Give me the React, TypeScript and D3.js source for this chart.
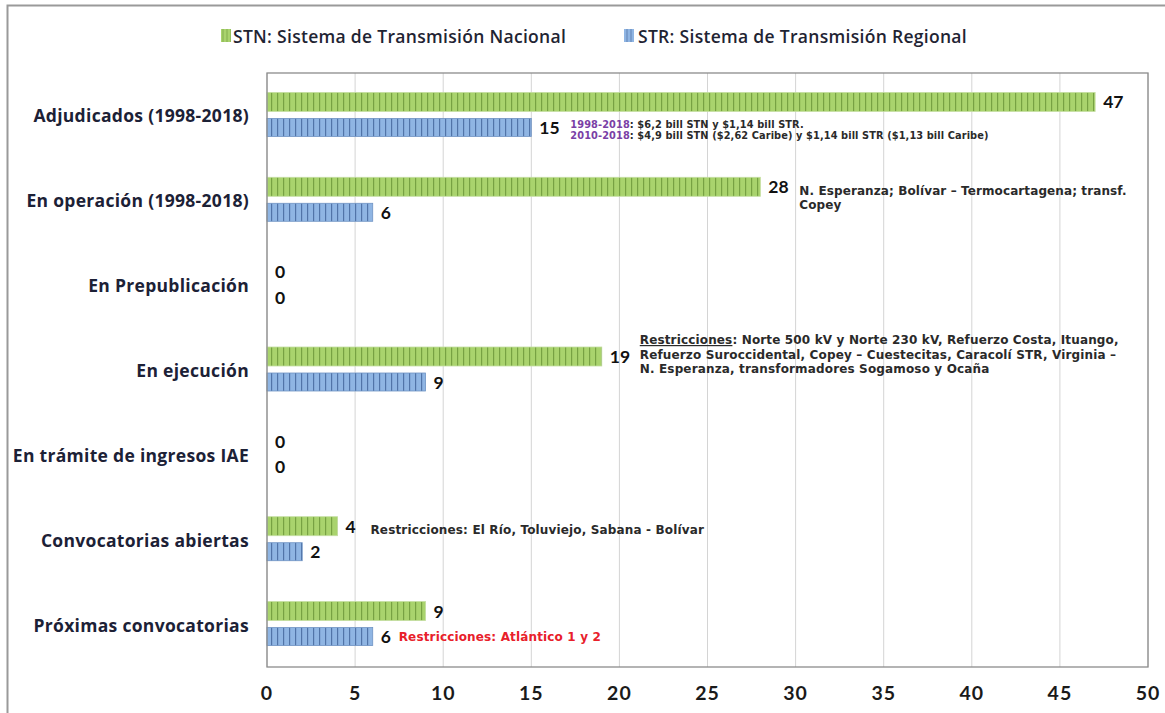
import React from "react";
import * as d3 from "d3";

const categories = [
  "Adjudicados (1998-2018)",
  "En operación (1998-2018)",
  "En Prepublicación",
  "En ejecución",
  "En trámite de ingresos IAE",
  "Convocatorias abiertas",
  "Próximas convocatorias",
];
const stnValues = [47, 28, 0, 19, 0, 4, 9];
const strValues = [15, 6, 0, 9, 0, 2, 6];
const xTicks = [0, 5, 10, 15, 20, 25, 30, 35, 40, 45, 50];
const legendLabels = ["STN: Sistema de Transmisión Nacional", "STR: Sistema de Transmisión Regional"];

type Seg = { t: string; color?: string; underline?: boolean };
type Note = { cat: number; series: "STN" | "STR"; dx: number; dys: number[]; size: number; ls: number; lines: Seg[][] };

const notes: Note[] = [
  {
    cat: 0, series: "STR", dx: 39, dys: [0.5, 11.5], size: 9.8, ls: 0.1,
    lines: [
      [{ t: "1998-2018", color: "#7a3fa6" }, { t: ": $6,2 bill STN y $1,14 bill STR." }],
      [{ t: "2010-2018", color: "#7a3fa6" }, { t: ": $4,9 bill STN ($2,62 Caribe) y $1,14 bill STR ($1,13 bill Caribe)" }],
    ],
  },
  {
    cat: 1, series: "STN", dx: 39, dys: [8, 22.5], size: 12, ls: 0.1,
    lines: [[{ t: "N. Esperanza; Bolívar – Termocartagena; transf." }], [{ t: "Copey" }]],
  },
  {
    cat: 3, series: "STN", dx: 38, dys: [-12.5, 2, 16.5], size: 12, ls: 0.15,
    lines: [
      [{ t: "Restricciones", underline: true }, { t: ": Norte 500 kV y Norte 230 kV, Refuerzo Costa, Ituango," }],
      [{ t: "Refuerzo Suroccidental, Copey – Cuestecitas, Caracolí STR, Virginia –" }],
      [{ t: "N. Esperanza, transformadores Sogamoso y Ocaña" }],
    ],
  },
  {
    cat: 5, series: "STN", dx: 33, dys: [8], size: 12, ls: 0.15,
    lines: [[{ t: "Restricciones: El Río, Toluviejo, Sabana - Bolívar" }]],
  },
  {
    cat: 6, series: "STR", dx: 26, dys: [4.5], size: 12, ls: 0.15,
    lines: [[{ t: "Restricciones: Atlántico 1 y 2", color: "#e8202a" }]],
  },
];

const W = 1165;
const H = 713;
const plotLeft = 267;
const plotRight = 1148;
const plotTop = 73;
const plotBottom = 667;

const GREEN = "#a9d36d";
const GREEN_STRIPE = "#6a9638";
const BLUE = "#8fb5e3";
const BLUE_STRIPE = "#41649a";
const LABEL_FONT = "'Open Sans', Lato, sans-serif";
const NUM_FONT = "Lato, 'Open Sans', sans-serif";
const NOTE_FONT = "'DejaVu Sans', Arial, sans-serif";

export default function App() {
  const x = d3.scaleLinear().domain([0, 50]).range([plotLeft, plotRight]);
  const y = d3.scaleBand().domain(categories).range([plotTop, plotBottom]).padding(0);
  const greenY = (c: number) => c - 23;
  const blueY = (c: number) => c + 3;
  const gH = 19;
  const bH = 18;

  return (
    <svg width={W} height={H} style={{ position: "absolute", left: 0, top: 0, background: "#fff" }}>
      <defs>
        <pattern id="pg" patternUnits="userSpaceOnUse" width={6} height={10} x={plotLeft}>
          <rect width={6} height={10} fill={GREEN} />
          <rect x={4} width={1.2} height={10} fill={GREEN_STRIPE} opacity={0.8} />
        </pattern>
        <pattern id="pb" patternUnits="userSpaceOnUse" width={6} height={10} x={plotLeft}>
          <rect width={6} height={10} fill={BLUE} />
          <rect x={4} width={1.2} height={10} fill={BLUE_STRIPE} opacity={0.8} />
        </pattern>
        <pattern id="pgl" patternUnits="userSpaceOnUse" width={4} height={10}>
          <rect width={4} height={10} fill={GREEN} />
          <rect x={2.5} width={1} height={10} fill={GREEN_STRIPE} opacity={0.6} />
        </pattern>
        <pattern id="pbl" patternUnits="userSpaceOnUse" width={4} height={10}>
          <rect width={4} height={10} fill={BLUE} />
          <rect x={2.5} width={1} height={10} fill={BLUE_STRIPE} opacity={0.6} />
        </pattern>
      </defs>
      <rect x={0} y={0} width={W} height={H} fill="#fff" />
      {/* outer frame */}
      <rect x={7.5} y={5.5} width={W + 10} height={H + 10} fill="none" stroke="#9a9a9a" strokeWidth={2} />

      {/* legend */}
      <g fontFamily={LABEL_FONT} fontWeight={600} fontSize={17.5} fill="#1f2433" letterSpacing={0.3}>
        <rect x={221} y={29} width={10} height={13} fill="url(#pgl)" />
        <text x={233} y={35.5} dominantBaseline="central">{legendLabels[0]}</text>
        <rect x={624} y={29} width={10} height={13} fill="url(#pbl)" />
        <text x={638} y={35.5} dominantBaseline="central">{legendLabels[1]}</text>
      </g>

      {/* gridlines */}
      {xTicks.map((t) => (
        <line key={t} x1={x(t)} x2={x(t)} y1={plotTop} y2={plotBottom} stroke="#d4d4d4" strokeWidth={1} />
      ))}

      {/* bars */}
      {categories.map((c, i) => {
        const cy = (y(c) as number) + y.bandwidth() / 2;
        return (
          <g key={c}>
            <rect x={x(0)} y={greenY(cy)} width={x(stnValues[i]) - x(0)} height={gH} fill="url(#pg)" stroke="#c4dea0" strokeWidth={0.8} />
            <rect x={x(0)} y={blueY(cy)} width={x(strValues[i]) - x(0)} height={bH} fill="url(#pb)" stroke="#6f93c4" strokeWidth={0.8} />
            <text x={x(stnValues[i]) + 8} y={greenY(cy) + gH / 2} dominantBaseline="central" fontFamily={NUM_FONT} fontWeight={700} fontSize={17.5} fill="#111">{stnValues[i]}</text>
            <text x={x(strValues[i]) + 8} y={blueY(cy) + bH / 2} dominantBaseline="central" fontFamily={NUM_FONT} fontWeight={700} fontSize={17.5} fill="#111">{strValues[i]}</text>
            <text x={249} y={cy} textAnchor="end" dominantBaseline="central" fontFamily={LABEL_FONT} fontWeight={700} fontSize={17.5} letterSpacing={0.3} fill="#1c2136">{c}</text>
          </g>
        );
      })}

      {/* plot frame */}
      <rect x={plotLeft} y={plotTop} width={plotRight - plotLeft} height={plotBottom - plotTop} fill="none" stroke="#8c8c8c" strokeWidth={1.3} />

      {/* annotations */}
      {notes.map((n, k) => {
        const c = categories[n.cat];
        const cy = (y(c) as number) + y.bandwidth() / 2;
        const val = n.series === "STN" ? stnValues[n.cat] : strValues[n.cat];
        const base = n.series === "STN" ? greenY(cy) + gH / 2 : blueY(cy) + bH / 2;
        return (
          <text key={k} fontFamily={NOTE_FONT} fontWeight={700} fontSize={n.size} letterSpacing={n.ls} fill="#2a2a2a">
            {n.lines.map((line, li) => (
              <tspan key={li} x={x(val) + n.dx} y={base + n.dys[li]}>
                {line.map((s, si) => (
                  <tspan key={si} fill={s.color || "#2a2a2a"} textDecoration={s.underline ? "underline" : undefined}>{s.t}</tspan>
                ))}
              </tspan>
            ))}
          </text>
        );
      })}

      {/* x axis tick labels */}
      {xTicks.map((t) => (
        <text key={t} x={x(t)} y={692} textAnchor="middle" dominantBaseline="central" fontFamily={NUM_FONT} fontWeight={700} fontSize={19.5} letterSpacing={1} fill="#1a1a1a">{t}</text>
      ))}
    </svg>
  );
}
